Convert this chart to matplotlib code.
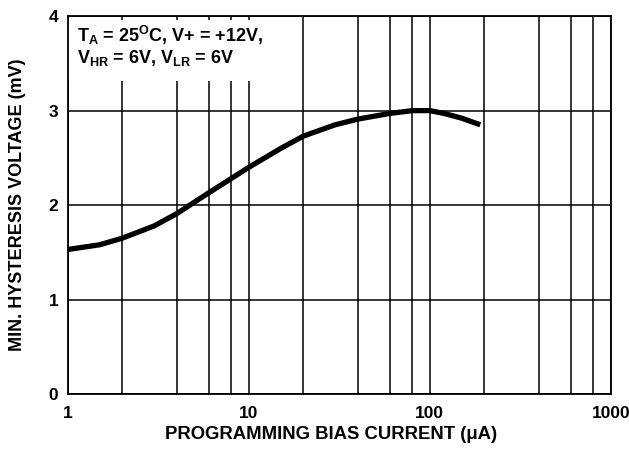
import numpy as np
import matplotlib.pyplot as plt
from matplotlib.ticker import LogLocator, FixedLocator, NullFormatter
from matplotlib.patches import Rectangle

plt.rcParams['font.family'] = ['Liberation Sans', 'DejaVu Sans']
plt.rcParams['font.weight'] = 'bold'
plt.rcParams['mathtext.default'] = 'regular'

# data
current = [1, 1.5, 2, 3, 4, 6, 10, 15, 20, 30, 40, 60, 80, 100, 120, 150, 190]
voltage = [1.53, 1.58, 1.65, 1.78, 1.91, 2.13, 2.40, 2.60, 2.73, 2.85, 2.91,
           2.97, 3.00, 3.00, 2.97, 2.92, 2.85]

x_ticks = [1, 10, 100, 1000]
x_labels = ['1', '10', '100', '1000']
y_ticks = [0, 1, 2, 3, 4]

fig = plt.figure(figsize=(6.29, 4.49), dpi=100)
ax = fig.add_axes([0.108, 0.1225, 0.863, 0.8415])

ax.set_xscale('log')
ax.set_xlim(1, 1000)
ax.set_ylim(0, 4)
ax.xaxis.set_major_locator(FixedLocator(x_ticks))
ax.set_xticklabels(x_labels)
ax.xaxis.set_minor_locator(LogLocator(base=10, subs=(2, 4, 6, 8)))
ax.xaxis.set_minor_formatter(NullFormatter())
ax.set_yticks(y_ticks)

ax.grid(True, which='both', axis='x', color='black', lw=1.1)
ax.grid(True, which='major', axis='y', color='black', lw=1.1)
ax.tick_params(which='both', length=0, labelsize=12.5)
ax.tick_params(axis='x', pad=9)
ax.tick_params(axis='y', pad=7)
for lab in ax.get_xticklabels() + ax.get_yticklabels():
    lab.set_fontweight('bold')
for s in ax.spines.values():
    s.set_linewidth(1.3)

# white patch behind the condition text, grid shows only as stubs at top
ax.add_patch(Rectangle((0, 0.828), 0.39, 0.162, transform=ax.transAxes,
                       facecolor='white', edgecolor='none', zorder=2))
ax.text(0.016, 0.98, 'T$_{A}$ = 25$^{O}$C, V+ = +12V,\nV$_{HR}$ = 6V, V$_{LR}$ = 6V',
        transform=ax.transAxes, fontsize=13, fontweight='bold',
        va='top', ha='left', linespacing=1.05, zorder=3)

ax.plot(current, voltage, color='black', lw=3.8, solid_capstyle='butt', zorder=4)

ax.set_xlabel('PROGRAMMING BIAS CURRENT (\u03bcA)', fontsize=13.3,
              fontweight='bold')
ax.xaxis.set_label_coords(0.484, -0.086)
ax.set_ylabel('MIN. HYSTERESIS VOLTAGE (mV)', fontsize=13,
              fontweight='bold', labelpad=16)

fig.savefig('out.png', dpi=100)
